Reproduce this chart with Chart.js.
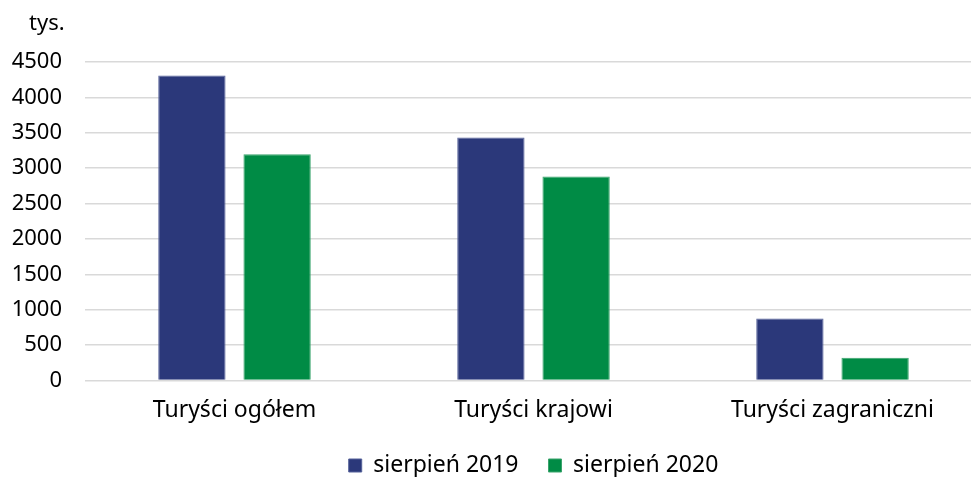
<!DOCTYPE html>
<html>
<head>
<meta charset="utf-8">
<script src="https://cdn.jsdelivr.net/npm/chart.js@4/dist/chart.umd.min.js"></script>
<style>
  html, body { margin: 0; padding: 0; overflow: hidden; background: #fff; }
  #wrap { width: 985px; height: 477px; }
</style>
</head>
<body>
<div id="wrap"><canvas id="chart"></canvas></div>
<script>
const categories = ["Turyści ogółem", "Turyści krajowi", "Turyści zagraniczni"];
const seriesNames = ["sierpień 2019", "sierpień 2020"];
const values2019 = [4310, 3432, 874];
const values2020 = [3197, 2880, 321];
const unitLabel = "tys.";

const FONT = "'Noto Sans', sans-serif";

// draws the "tys." unit above the y axis labels
const unitPlugin = {
    id: "unitLabel",
    afterDraw(chart) {
        const ctx = chart.ctx;
        ctx.save();
        ctx.font = "22px " + FONT;
        ctx.fillStyle = "#000";
        ctx.textAlign = "left";
        ctx.textBaseline = "middle";
        ctx.fillText(unitLabel, 29, 24);
        ctx.restore();
    }
};

new Chart(document.getElementById("chart"), {
    type: "bar",
    data: {
        labels: categories,
        datasets: [
            {
                label: seriesNames[0],
                data: values2019,
                backgroundColor: "#2b387a",
                borderColor: "#55619a",
                borderWidth: 1
            },
            {
                label: seriesNames[1],
                data: values2020,
                backgroundColor: "#008b45",
                borderColor: "#3aa46c",
                borderWidth: 1
            }
        ]
    },
    options: {
        responsive: true,
        maintainAspectRatio: false,
        animation: false,
        layout: { padding: { top: 62, right: 3, left: 0, bottom: -10 } },
        datasets: { bar: { categoryPercentage: 0.57, barPercentage: 0.79 } },
        plugins: {
            legend: {
                position: "bottom",
                fullSize: false,
                labels: {
                    boxWidth: 13,
                    boxHeight: 13,
                    padding: 30,
                    color: "#000",
                    font: { family: FONT, size: 23 }
                }
            },
            tooltip: { enabled: false }
        },
        scales: {
            x: {
                afterFit(scale) { scale.height -= 16; },
                grid: { display: false, drawTicks: false },
                border: { display: false },
                ticks: {
                    color: "#000",
                    padding: 16,
                    font: { family: FONT, size: 23 }
                }
            },
            y: {
                min: 0,
                max: 4500,
                afterFit(scale) { scale.width = 85; },
                grid: { color: "#d9d9d9", lineWidth: 1.5, drawTicks: false },
                border: { display: false },
                ticks: {
                    stepSize: 500,
                    padding: 23,
                    color: "#000",
                    font: { family: FONT, size: 22 },
                    callback: (v) => String(v)
                }
            }
        }
    },
    plugins: [unitPlugin]
});
</script>
</body>
</html>
